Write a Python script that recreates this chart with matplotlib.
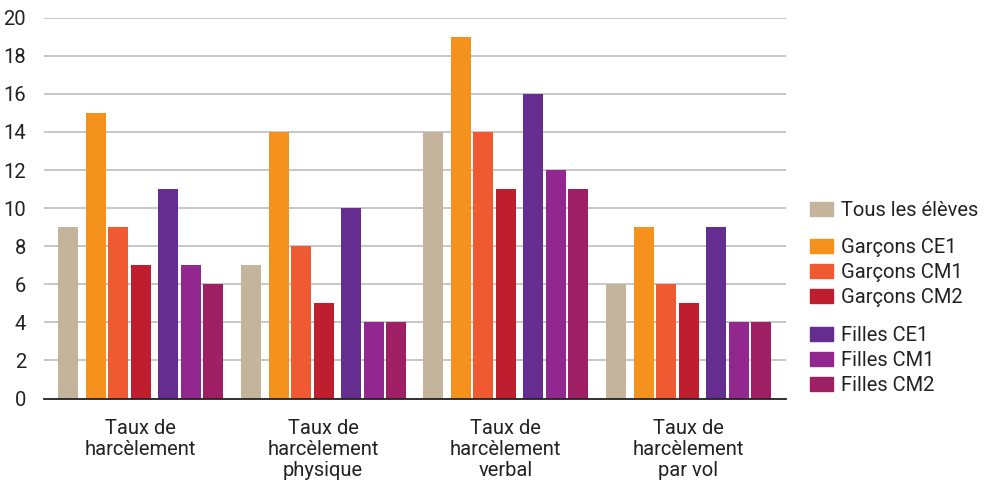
import matplotlib.pyplot as plt
import matplotlib.patches as mpatches
import numpy as np

categories = ['Taux de\nharcèlement', 'Taux de\nharcèlement\nphysique',
              'Taux de\nharcèlement\nverbal', 'Taux de\nharcèlement\npar vol']
series_names = ['Tous les élèves', 'Garçons CE1', 'Garçons CM1', 'Garçons CM2',
                'Filles CE1', 'Filles CM1', 'Filles CM2']
tous = [9, 7, 14, 6]
garcons_ce1 = [15, 14, 19, 9]
garcons_cm1 = [9, 8, 14, 6]
garcons_cm2 = [7, 5, 11, 5]
filles_ce1 = [11, 10, 16, 9]
filles_cm1 = [7, 4, 12, 4]
filles_cm2 = [6, 4, 11, 4]
colors = ['#c4b49c', '#f5921e', '#f05a32', '#be1e2d', '#652d90', '#92278f', '#9e1f63']

series = [tous, garcons_ce1, garcons_cm1, garcons_cm2, filles_ce1, filles_cm1, filles_cm2]

plt.rcParams['font.family'] = ['Roboto', 'DejaVu Sans']
fs = 14.5

fig = plt.figure(figsize=(9.96, 4.86), dpi=100)
ax = fig.add_axes([0.0442, 0.180, 0.745, 0.7836])

# bar offsets inside a group, measured in pixels, group spacing 182.5 px
offsets = np.array([-72.5, -44.5, -22.5, 0.5, 27.5, 50.5, 72.5]) / 182.5
width = 20 / 182.5
x = np.arange(len(categories))

for i, vals in enumerate(series):
    ax.bar(x + offsets[i], vals, width, color=colors[i], zorder=3)

ax.set_xlim(-0.529, 3.537)
ax.set_ylim(0, 20)
ax.set_yticks(range(0, 21, 2))
ax.set_xticks(x)
ax.set_xticklabels(categories, fontsize=fs, linespacing=1.12, color='#222222')
ax.tick_params(axis='y', length=0, pad=13, labelsize=fs, labelcolor='#222222')
ax.tick_params(axis='x', length=0, pad=15)
ax.grid(axis='y', color='#bdbdbd', linewidth=1.2, zorder=0)
for s in ['top', 'right', 'left']:
    ax.spines[s].set_visible(False)
ax.spines['bottom'].set_color('#222222')
ax.spines['bottom'].set_linewidth(1.3)
ax.spines['bottom'].set_zorder(4)

def make_legend(idx, top):
    handles = [mpatches.Patch(color=colors[i]) for i in idx]
    labels = [series_names[i] for i in idx]
    leg = fig.legend(handles, labels, loc='upper left', bbox_to_anchor=(0.813, top),
                     frameon=False, fontsize=fs, handlelength=1.15, handleheight=0.75,
                     handletextpad=0.4, labelspacing=0.3, borderpad=0, borderaxespad=0)
    for t in leg.get_texts():
        t.set_color('#222222')
    return leg

make_legend([0], 1 - 201 / 486)
make_legend([1, 2, 3], 1 - 238 / 486)
make_legend([4, 5, 6], 1 - 326 / 486)

fig.savefig('out.png', dpi=100)
